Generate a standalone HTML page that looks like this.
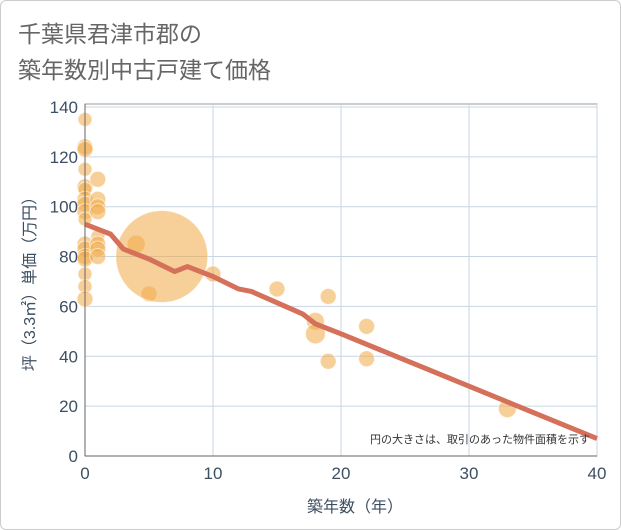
<!DOCTYPE html>
<html><head><meta charset="utf-8"><style>
body{margin:0;background:#fff;font-family:"Liberation Sans","Noto Sans CJK JP",sans-serif;}
#wrap{width:619px;height:528px;border:1px solid #ccc;border-radius:6px;position:relative;overflow:hidden;}
</style></head><body>
<div id="wrap">
<svg id="c" width="621" height="530" style="position:absolute;left:-1px;top:-1px">
<text x="18" y="42" font-size="23" fill="#666">千葉県君津市郡の</text>
<text x="18" y="78" font-size="23" fill="#666">築年数別中古戸建て価格</text>
<g id="grid"></g><g id="pts"></g><g id="ln"></g><g id="ax"></g>
<text x="590" y="443" font-size="11" fill="#333" text-anchor="end">円の大きさは、取引のあった物件面積を示す</text>
<text x="355" y="512" font-size="16" fill="#3d4f63" text-anchor="middle">築年数（年）</text>
<text transform="translate(35,280) rotate(-90)" font-size="16" fill="#3d4f63" text-anchor="middle">坪（3.3㎡）単価（万円）</text>
</svg></div>
<script>
const xTicks=[0,10,20,30,40];
const yTicks=[0,20,40,60,80,100,120,140];
const ptX=[0,0,0,0,0,0,0,0,0,0,0,0,0,0,0,0,0,1,1,1,1,1,1,1,1,4,5,6,10,15,18,18,19,19,22,22,33];
const ptY=[135,124,123,115,108,107,103,101,98,95,85,83,80,79,73,68,63,111,103,100,98,88,85,83,80,85,65,80,73,67,54,49,64,38,52,39,19];
const ptR=[7,8,8,7,8,7,8,8,8,7,8,8,8,8,7,7,8,8,8,8,8,7,8,8,8,9,8,46,8,8,9,10,8,8,8,8,9];
const lineX=[0,2,3,5,7,8,10,12,13,17,18,20,40];
const lineY=[93,89,83,79,74,76,72,67,66,57,53,49,7];
const X=v=>85+v*12.8, Y=v=>456-v*2.493;
const ns="http://www.w3.org/2000/svg";
function mk(p,t,a){const e=document.createElementNS(ns,t);for(const k in a)e.setAttribute(k,a[k]);document.getElementById(p).appendChild(e);return e;}
let bg=mk('grid','rect',{x:85,y:104,width:512,height:352,fill:'#fff',stroke:'#999'});


xTicks.forEach(t=>{let l=mk('grid','line',{x1:X(t),x2:X(t),y1:104,y2:456,stroke:'#c8d6e4'});


let tx=mk('ax','text',{x:X(t),y:479,'font-size':17,fill:'#3d4f63','text-anchor':'middle'});tx.textContent=t;

});
yTicks.forEach(t=>{let l=mk('grid','line',{x1:85,x2:597,y1:Y(t),y2:Y(t),stroke:'#c8d6e4'});


let tx=mk('ax','text',{x:78,y:Y(t)+6,'font-size':17,fill:'#3d4f63','text-anchor':'end'});tx.textContent=t;

});
let a1=mk('ax','line',{x1:85,x2:85,y1:104,y2:456,stroke:'#666'});


let a2=mk('ax','line',{x1:85,x2:597,y1:456,y2:456,stroke:'#666'});


ptX.forEach((v,i)=>{let c=mk('pts','circle',{cx:X(v),cy:Y(ptY[i]),r:ptR[i],fill:'rgba(240,170,70,0.55)',stroke:'rgba(255,255,255,0.6)'});

});
let p=mk('ln','polyline',{points:lineX.map((v,i)=>X(v)+','+Y(lineY[i])).join(' '),fill:'none',stroke:'#d5705a','stroke-width':5,'stroke-linejoin':'round'});


</script></body></html>
